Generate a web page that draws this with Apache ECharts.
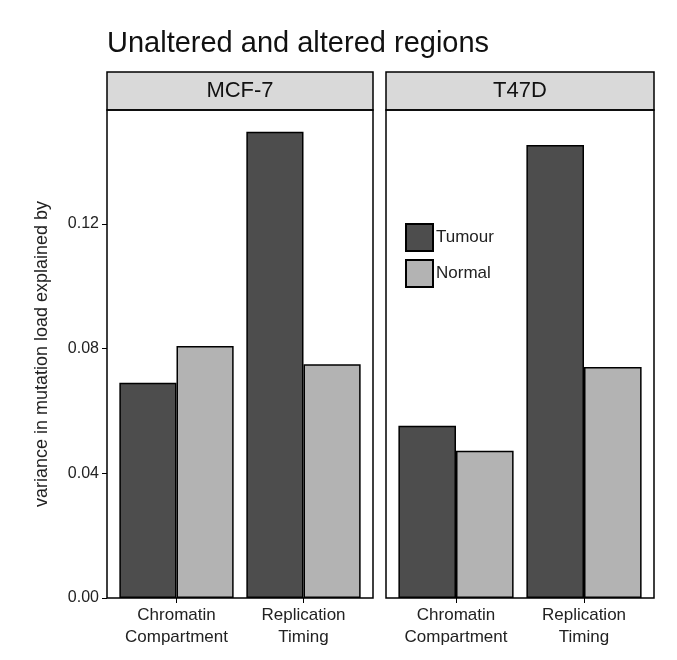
<!DOCTYPE html>
<html><head><meta charset="utf-8">
<script src="https://cdn.jsdelivr.net/npm/echarts@6/dist/echarts.min.js"></script>
<style>html,body{margin:0;padding:0;background:#fff}#c{width:677px;height:660px}</style>
</head><body><div id="c"></div>
<script>
const categories = ['Chromatin\nCompartment', 'Replication\nTiming'];
const panels = ['MCF-7', 'T47D'];
const mcfTumour = [0.069, 0.1495];
const mcfNormal = [0.0808, 0.075];
const t47Tumour = [0.0552, 0.1453];
const t47Normal = [0.0472, 0.0741];
const yTicks = [0, 0.04, 0.08, 0.12];

const font = 'Liberation Sans, Arial, sans-serif';
const chart = echarts.init(document.getElementById('c'));
const panelsBox = [{left:107, width:266}, {left:386, width:268}];
const grids = panelsBox.map(p => ({left:p.left+6, top:110, width:p.width-12, height:488}));
const itemDark = {color:'#4d4d4d', borderColor:'#000', borderWidth:1.5};
const itemLight = {color:'#b3b3b3', borderColor:'#000', borderWidth:1.5};
function xAx(i){return {type:'category', gridIndex:i, data:categories, axisTick:{show:true, alignWithLabel:true, lineStyle:{color:'#000'}},
  axisLine:{show:false}, axisLabel:{interval:0, color:'#222', fontSize:17, fontFamily:font, lineHeight:22, margin:6}};}
function yAx(i){return {type:'value', gridIndex:i, min:0, max:0.1565, interval:0.04, offset:6,
  axisLine:{show:false}, axisTick:{show:i===0, length:5, lineStyle:{color:'#000'}},
  splitLine:{show:false},
  axisLabel:{show:i===0, color:'#222', fontSize:16, fontFamily:font, showMaxLabel:false,
    formatter:v=>yTicks.some(t=>Math.abs(t-v)<1e-9)?v.toFixed(2):''},
  name:i===0?'variance in mutation load explained by':'', nameLocation:'middle', nameGap:56,
  nameTextStyle:{fontSize:18, color:'#222', fontFamily:font}};}
const s = (name, data, i, st) => ({name, type:'bar', xAxisIndex:i, yAxisIndex:i, data, itemStyle:st, barGap:'0%', barCategoryGap:'10%'});
chart.setOption({
  animation:false,
  title:{text:'Unaltered and altered regions', left:102, top:24, textStyle:{fontSize:29, fontWeight:'normal', color:'#111', fontFamily:font}},
  grid:grids,
  xAxis:[xAx(0), xAx(1)],
  yAxis:[yAx(0), yAx(1)],
  legend:{data:['Tumour','Normal'], orient:'vertical', left:400, top:218, itemWidth:27, itemHeight:27, itemGap:7, icon:'rect',
    textStyle:{fontSize:17, color:'#222', fontFamily:font, padding:[0,0,0,-2]}, selectedMode:false},
  series:[s('Tumour', mcfTumour, 0, itemDark), s('Normal', mcfNormal, 0, itemLight),
          s('Tumour', t47Tumour, 1, itemDark), s('Normal', t47Normal, 1, itemLight)],
  graphic:[
    ...panelsBox.map(g=>({type:'rect', shape:{x:g.left, y:72, width:g.width, height:38}, style:{fill:'#d9d9d9', stroke:'#000', lineWidth:1.5}})),
    ...panelsBox.map((g,i)=>({type:'text', x:g.left+g.width/2, y:91, style:{text:panels[i], fontSize:22, fill:'#111', fontFamily:font, align:'center', verticalAlign:'middle'}})),
    ...panelsBox.map(g=>({type:'rect', shape:{x:g.left, y:110, width:g.width, height:488}, style:{fill:'none', stroke:'#000', lineWidth:1.5}, z:10}))
  ]
});
</script></body></html>
